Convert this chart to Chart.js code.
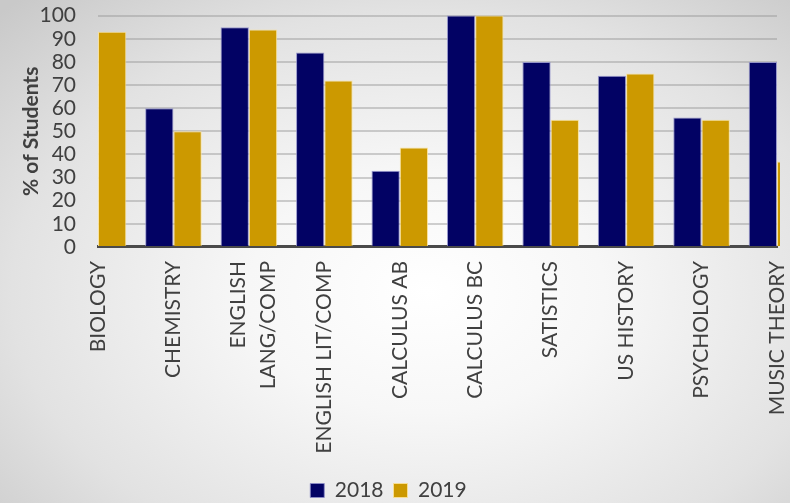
<!DOCTYPE html>
<html>
<head>
<meta charset="utf-8">
<script src="https://cdn.jsdelivr.net/npm/chart.js@4/dist/chart.umd.min.js"></script>
<style>
  html, body { margin: 0; padding: 0; }
  body {
    width: 790px; height: 503px; overflow: hidden;
    background: radial-gradient(ellipse 75% 80% at 54% 58%, #ffffff 0%, #f7f7f7 30%, #e2e2e2 70%, #c9c9c9 100%);
  }
  #wrap { position: relative; width: 790px; height: 503px; }
</style>
</head>
<body>
<div id="wrap"><canvas id="chart"></canvas></div>
<script>
// AP exam pass rates by course, two school years
const categories = [
  'BIOLOGY', 'CHEMISTRY', ['ENGLISH', 'LANG/COMP'], 'ENGLISH LIT/COMP',
  'CALCULUS AB', 'CALCULUS BC', 'SATISTICS', 'US HISTORY', 'PSYCHOLOGY', 'MUSIC THEORY'
];
const seriesNames = ['2018', '2019'];
const values2018 = [null, 60, 95, 84, 33, 100, 80, 74, 56, 80];
const values2019 = [93, 50, 94, 72, 43, 100, 55, 75, 55, 37];
const yTicks = [0, 10, 20, 30, 40, 50, 60, 70, 80, 90, 100];

const FONT = 'Lato, "Open Sans", "DejaVu Sans", sans-serif';
const TEXT = '#404040';
const LABEL_SIZE = 21;
const MULTI_LINE_HEIGHT = 30;

const isMultiLine = (i) => Array.isArray(categories[i]) && categories[i].length > 1;

new Chart(document.getElementById('chart'), {
  type: 'bar',
  data: {
    labels: categories,
    datasets: [
      {
        label: seriesNames[0],
        data: values2018,
        backgroundColor: '#020264',
        borderColor: 'rgba(140,140,200,0.85)',
        borderWidth: 1,
        categoryPercentage: 0.75,
        barPercentage: 1.0,
        clip: { left: 0, right: 3, top: 5, bottom: 0 }
      },
      {
        label: seriesNames[1],
        data: values2019,
        backgroundColor: '#cc9900',
        borderColor: 'rgba(250,225,150,0.9)',
        borderWidth: 1,
        categoryPercentage: 0.75,
        barPercentage: 1.0,
        clip: { left: 0, right: 3, top: 5, bottom: 0 }
      }
    ]
  },
  options: {
    responsive: true,
    maintainAspectRatio: false,
    animation: false,
    layout: { padding: { left: 0, right: 13, top: 0, bottom: -8 } },
    plugins: {
      tooltip: { enabled: false },
      legend: {
        position: 'bottom',
        labels: {
          color: TEXT,
          font: { family: FONT, size: LABEL_SIZE },
          boxWidth: 14,
          boxHeight: 14,
          padding: 10
        }
      }
    },
    scales: {
      x: {
        type: 'category',
        offset: false,
        grid: { display: true, color: 'rgba(0,0,0,0)', drawTicks: true, tickLength: 14, tickColor: 'rgba(0,0,0,0)' },
        border: { display: true, color: '#4a4a4a', width: 3 },
        ticks: {
          color: TEXT,
          font: (ctx) => ({
            family: FONT,
            size: LABEL_SIZE,
            lineHeight: isMultiLine(ctx.index) ? MULTI_LINE_HEIGHT + 'px' : 1.2
          }),
          minRotation: 90,
          maxRotation: 90,
          autoSkip: false,
          padding: 0
        },
        afterFit: (scale) => {
          scale.height = 223;
          scale.paddingLeft = 0;
          scale.paddingRight = 0;
          // centre two-line rotated labels on their category
          const base = Object.getPrototypeOf(scale)._computeLabelItems;
          scale._computeLabelItems = function (chartArea) {
            const items = base.call(this, chartArea);
            items.forEach((item, i) => {
              if (isMultiLine(i) && item.options && item.options.translation) {
                item.options.translation[0] -= 11;
              }
            });
            return items;
          };
        }
      },
      y: {
        min: 0,
        max: 100,
        afterBuildTicks: (scale) => { scale.ticks = yTicks.map(v => ({ value: v })); },
        grid: { color: 'rgba(150,150,150,0.45)', lineWidth: 2, drawTicks: true, tickLength: 19, tickColor: 'rgba(0,0,0,0)' },
        border: { display: false },
        ticks: {
          color: TEXT,
          font: { family: FONT, size: LABEL_SIZE },
          autoSkip: false,
          padding: 3
        },
        title: {
          display: true,
          text: '% of Students',
          color: TEXT,
          font: { family: FONT, size: LABEL_SIZE, weight: 'bold' },
          padding: { top: 19, bottom: 0 }
        },
        afterFit: (scale) => { scale.width = 98; }
      }
    }
  }
});
</script>
</body>
</html>
